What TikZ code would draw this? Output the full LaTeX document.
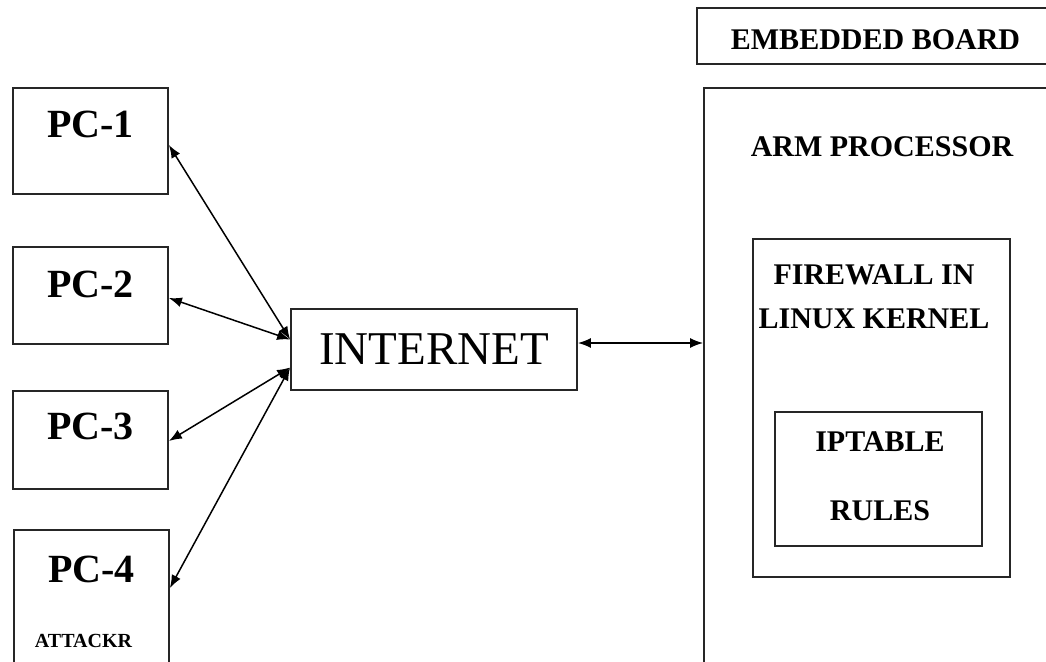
\documentclass[tikz,border=0pt]{standalone}
\usepackage{fontspec}
\setmainfont{Liberation Serif}
\usetikzlibrary{positioning,arrows.meta}

\begin{document}
\begin{tikzpicture}[x=1pt,y=-1pt,
  box/.style={draw=black!85,line width=1.8pt,inner sep=0pt},
  pclab/.style={font=\fontsize{40}{44}\selectfont\bfseries,inner sep=0pt},
  blab/.style={font=\fontsize{30}{34}\selectfont\bfseries,inner sep=0pt,align=center},
  link/.style={{Latex[length=13pt,width=10pt]}-{Latex[length=13pt,width=10pt]},line width=1.5pt}]
\useasboundingbox (0,0) rectangle (1046,661);
\clip (0,0) rectangle (1046,661);
% the four PCs
\node[box,minimum width=155,minimum height=106] (pc1) at (90.5,141) {};
\node[box,minimum width=155,minimum height=97] (pc2) at (90.5,295.5) {};
\node[box,minimum width=155,minimum height=98] (pc3) at (90.5,440) {};
\node[box,minimum width=155,minimum height=160] (pc4) at (91.5,610) {};
\node[pclab] (pc1t) at ([yshift=-37pt]pc1.north) {PC-1};
\node[pclab] (pc2t) at ([yshift=-38pt]pc2.north) {PC-2};
\node[pclab] (pc3t) at ([yshift=-36pt]pc3.north) {PC-3};
\node[pclab] (pc4t) at ([yshift=-40pt]pc4.north) {PC-4};
\node[font=\fontsize{20}{22}\selectfont\bfseries,inner sep=0pt] (atk) at ([xshift=-8pt,yshift=-112pt]pc4.north) {ATTACKR};
% internet
\node[box,minimum width=286,minimum height=81,font=\fontsize{47}{50}\selectfont] (net) at (434,349.5) {INTERNET};
% embedded board
\node[box,minimum width=363,minimum height=56] (board) at (878.5,36) {};
\node[blab] (boardt) at ([xshift=-3pt,yshift=-4pt]board.center) {EMBEDDED BOARD};
\node[box,minimum width=356,minimum height=592] (arm) at (882,384) {};
\node[blab] (armt) at ([yshift=-60pt]arm.north) {ARM PROCESSOR};
\node[box,minimum width=257,minimum height=338] (fw) at (881.5,408) {};
\node[blab,font=\fontsize{30}{44}\selectfont\bfseries] (fwt) at ([xshift=-7.5pt,yshift=-59pt]fw.north) {FIREWALL IN\\LINUX KERNEL};
\node[box,minimum width=207,minimum height=134,line width=1.4pt] (ipt) at (878.5,479) {};
\node[blab,font=\fontsize{30}{69}\selectfont\bfseries] (iptt) at ([xshift=1.5pt,yshift=-64.5pt]ipt.north) {IPTABLE\\RULES};
% links
\draw[link] ([yshift=-4pt]pc1.east) -- ([yshift=10pt]net.west);
\draw[link] ([yshift=-2.5pt]pc2.east) -- ([yshift=10pt]net.west);
\draw[link] ([yshift=-1pt]pc3.east) -- ([yshift=-18pt]net.west);
\draw[link] ([yshift=22pt]pc4.east) -- ([yshift=-18pt]net.west);
\draw[link] ([yshift=6.5pt]net.east) -- ([yshift=6.5pt]net.east -| arm.west);
\end{tikzpicture}
\end{document}
